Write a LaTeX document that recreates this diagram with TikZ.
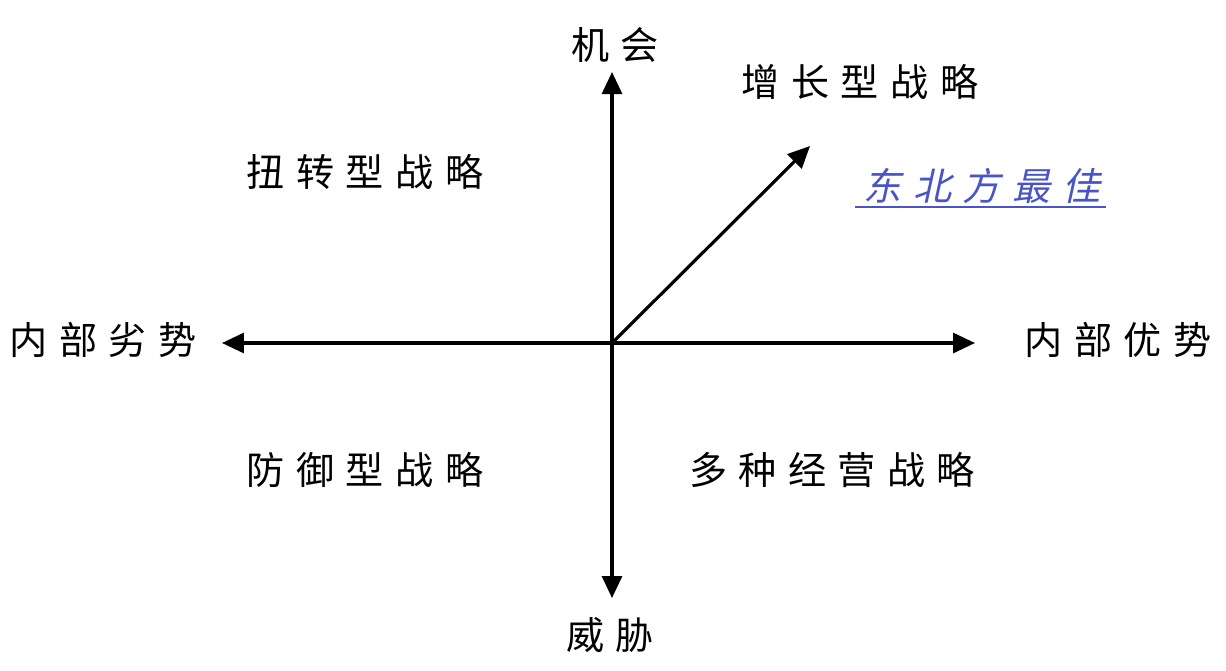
\documentclass[tikz,border=0pt]{standalone}
\usepackage{fontspec}
\setmainfont{Noto Sans CJK SC}
\newfontfamily\cjkslant{Noto Sans CJK SC}[FakeSlant=0.22]
\usetikzlibrary{arrows.meta}
\newcommand{\gp}{\hspace{0.3em}}
\definecolor{tipblue}{RGB}{72,84,200}
\begin{document}
\begin{tikzpicture}[x=0.02cm,y=-0.02cm,
  axis/.style={line width=1.8pt,-{Triangle[length=0.44cm,width=0.4cm]}},
  lbl/.style={inner sep=0pt,font=\fontsize{21.7}{26}\selectfont},
  tiplbl/.style={inner sep=0pt,text=tipblue,font=\fontsize{21.7}{26}\selectfont\cjkslant}]
\useasboundingbox (0,0) rectangle (1226,670);
\fill[white] (0,0) rectangle (1226,670);
\coordinate (O) at (612,343);
\coordinate (top) at (612,72);
\coordinate (bot) at (612,598);
\coordinate (lft) at (222,343);
\coordinate (rgt) at (975,343);
\coordinate (ne) at (810,146);
\draw[axis] (O) -- (top);
\draw[axis] (O) -- (bot);
\draw[axis] (O) -- (lft);
\draw[axis] (O) -- (rgt);
\draw[axis] (O) -- (ne);
\node[lbl] (opp) at (615,45) {机\gp 会};
\node[lbl] (thr) at (610,635) {威\gp 胁};
\node[lbl] (weak) at (103,340) {内\gp 部\gp 劣\gp 势};
\node[lbl] (str) at (1118,340) {内\gp 部\gp 优\gp 势};
\node[lbl] (grow) at (860,82) {增\gp 长\gp 型\gp 战\gp 略};
\node[lbl] (turn) at (365,172) {扭\gp 转\gp 型\gp 战\gp 略};
\node[lbl] (def) at (365,470) {防\gp 御\gp 型\gp 战\gp 略};
\node[lbl] (div) at (832,470) {多\gp 种\gp 经\gp 营\gp 战\gp 略};
\node[tiplbl] (best) at (982,186) {东\gp 北\gp 方\gp 最\gp 佳};
\coordinate (ulA) at (855,207);
\coordinate (ulB) at (1106,207);
\draw[tipblue,line width=1.5pt] (ulA) -- (ulB);
\end{tikzpicture}
\end{document}
